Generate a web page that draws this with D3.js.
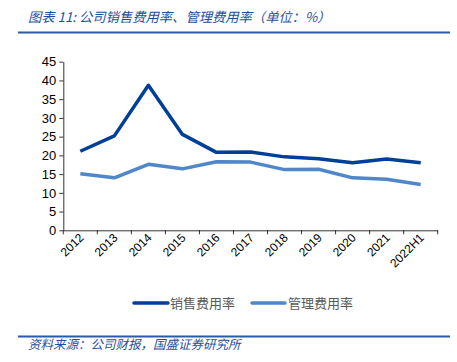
<!DOCTYPE html>
<html><head><meta charset="utf-8">
<script src="https://cdn.jsdelivr.net/npm/d3@7"></script>
<style>body{margin:0;background:#fff}svg{display:block}</style>
</head><body>
<script>
const categories = ["2012","2013","2014","2015","2016","2017","2018","2019","2020","2021","2022H1"];
const sales = [21.1,25.2,38.7,25.6,20.8,20.9,19.6,19.1,18.0,19.0,18.0];
const admin = [15.1,14.0,17.6,16.4,18.3,18.2,16.2,16.3,14.0,13.6,12.2];
const yTicks = [0,5,10,15,20,25,30,35,40,45];
const seriesNames = ["销售费用率","管理费用率"];
const colors = ["#003f98","#4f87c8"];

const W=457,H=362;
const svg=d3.select("body").append("svg").attr("width",W).attr("height",H);
const font="'Noto Sans CJK SC', sans-serif";

// title
svg.append("text").attr("x",28).attr("y",22).attr("font-family",font).attr("font-size",13.3)
  .attr("font-style","italic").attr("fill","#1f4f9c").text("图表 11: 公司销售费用率、管理费用率（单位：%）");
svg.append("line").attr("x1",18).attr("x2",450).attr("y1",32.5).attr("y2",32.5).attr("stroke","#2b5ba6").attr("stroke-width",2);
svg.append("line").attr("x1",18).attr("x2",450).attr("y1",336.5).attr("y2",336.5).attr("stroke","#2b5ba6").attr("stroke-width",2);
svg.append("text").attr("x",28).attr("y",349).attr("font-family",font).attr("font-size",12.5)
  .attr("font-style","italic").attr("fill","#1f4f9c").text("资料来源：公司财报，国盛证券研究所");

const x=d3.scaleBand().domain(categories).range([63.3,437.7]);
const y=d3.scaleLinear().domain([0,45]).range([230.3,61.7]);

const yAxis=svg.append("g").attr("transform","translate(63.3,0)")
  .call(d3.axisLeft(y).tickValues(yTicks).tickSize(4).tickSizeOuter(0));
yAxis.select(".domain").attr("stroke","#000").attr("stroke-width",0.8);
yAxis.selectAll(".tick line").attr("stroke","#000").attr("stroke-width",0.8);
yAxis.selectAll("text").attr("font-family","'Liberation Sans', Arial, sans-serif").attr("font-size",13).attr("fill","#000").attr("x",-7);

const xAxis=svg.append("g").attr("transform","translate(0,230.3)")
  .call(d3.axisBottom(x).tickSize(0).tickSizeOuter(0));
xAxis.select(".domain").attr("stroke","#000").attr("stroke-width",0.8);
xAxis.selectAll(".tick text").attr("font-family","'Liberation Sans', Arial, sans-serif").attr("font-size",12).attr("fill","#000")
  .attr("text-anchor","end").attr("dx",0).attr("dy",0)
  .attr("transform","translate(2,6) rotate(-45)");
// boundary ticks
const bounds=categories.map(c=>x(c)).concat([x.range()[1]]);
xAxis.selectAll(".btick").data(bounds).enter().append("line").attr("class","btick")
  .attr("x1",d=>d).attr("x2",d=>d).attr("y1",0).attr("y2",4).attr("stroke","#000").attr("stroke-width",0.8);

const line=d3.line().x((d,i)=>x(categories[i])+x.bandwidth()/2).y(d=>y(d));
[sales,admin].forEach((s,k)=>{
  svg.append("path").datum(s).attr("d",line).attr("fill","none").attr("stroke",colors[k])
    .attr("stroke-width",3.5).attr("stroke-linejoin","round");
});

// legend
const leg=[{x1:134,x2:168,tx:170},{x1:252,x2:285,tx:288}];
leg.forEach((l,k)=>{
  svg.append("line").attr("x1",l.x1).attr("x2",l.x2).attr("y1",303).attr("y2",303).attr("stroke",colors[k]).attr("stroke-width",3.5).attr("stroke-linecap","round");
  svg.append("text").attr("x",l.tx).attr("y",308).attr("font-family",font).attr("font-size",13).attr("fill","#595959").text(seriesNames[k]);
});
</script>
</body></html>
